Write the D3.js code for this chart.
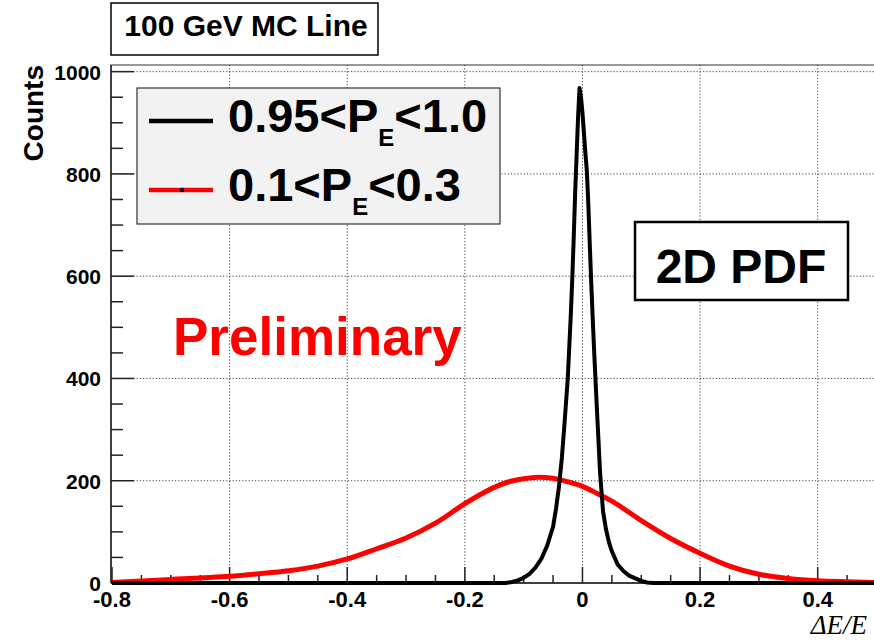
<!DOCTYPE html>
<html>
<head>
<meta charset="utf-8">
<script src="https://cdn.jsdelivr.net/npm/d3@7"></script>
<style>
  body { margin: 0; background: #fff; }
  svg text { font-family: "Liberation Sans", Arial, sans-serif; font-weight: bold; }
</style>
</head>
<body>
<div id="chart"></div>
<script>
// black histogram: 0.95 < P_E < 1.0
const blackX = [-0.8, -0.13, -0.12, -0.11, -0.10, -0.09, -0.08, -0.07, -0.06, -0.05, -0.045, -0.04, -0.035,
    -0.03, -0.025, -0.02, -0.0175, -0.015, -0.0125, -0.01, -0.0075, -0.005, -0.0025, 0, 0.0025, 0.005,
    0.0075, 0.01, 0.0125, 0.015, 0.0175, 0.02, 0.025, 0.03, 0.035, 0.04, 0.045, 0.05, 0.06, 0.07, 0.08,
    0.09, 0.10, 0.11, 0.12, 0.5];
const blackCounts = [0, 0, 2, 5, 10, 18, 30, 47, 73, 110, 145, 188, 245,
    320, 400, 520, 590, 670, 760, 835, 910, 968, 950, 920, 880, 840,
    805, 740, 660, 585, 515, 450, 330, 215, 140, 105, 80, 62, 36, 23, 14,
    9, 4, 1, 0, 0];

// red histogram: 0.1 < P_E < 0.3
const redX = [-0.8, -0.75, -0.7, -0.65, -0.6, -0.55, -0.5, -0.45, -0.4, -0.35, -0.3, -0.25, -0.2, -0.175,
    -0.15, -0.125, -0.1, -0.075, -0.05, -0.025, 0, 0.025, 0.05, 0.1, 0.15, 0.2, 0.25, 0.3, 0.35, 0.4, 0.45, 0.5];
const redCounts = [1, 4, 7, 10, 13, 18, 24, 33, 47, 67, 88, 117, 155, 172,
    187, 198, 204, 207, 205, 198, 189, 175, 160, 122, 87, 58, 33, 17, 9, 4.5, 2.5, 1];

const xMajor = [-0.8, -0.6, -0.4, -0.2, 0, 0.2, 0.4];
const yMajor = [0, 200, 400, 600, 800, 1000];

const legendLabels = [
    { pre: "0.95<P", sub: "E", post: "<1.0", color: "#000000" },
    { pre: "0.1<P", sub: "E", post: "<0.3", color: "#ff0000" }
];

const width = 874, height = 640;
const frame = { left: 111, right: 876.5, top: 65, bottom: 583 };

const svg = d3.select("#chart").append("svg")
    .attr("width", width)
    .attr("height", height);

const x = d3.scaleLinear().domain([-0.8, 0.5]).range([112, frame.right]);
const y = d3.scaleLinear().domain([0, 1013]).range([frame.bottom, frame.top]);

// grid
const grid = svg.append("g").attr("stroke", "#444").attr("stroke-width", 1).attr("stroke-dasharray", "1.2,2");
grid.selectAll("line.gx")
    .data(xMajor.filter(d => d > -0.8))
    .join("line")
    .attr("x1", d => x(d)).attr("x2", d => x(d))
    .attr("y1", frame.top).attr("y2", frame.bottom);
grid.selectAll("line.gy")
    .data(yMajor.filter(d => d > 0))
    .join("line")
    .attr("x1", frame.left).attr("x2", frame.right)
    .attr("y1", d => y(d)).attr("y2", d => y(d));

// frame
svg.append("rect")
    .attr("x", frame.left).attr("y", frame.top)
    .attr("width", frame.right - frame.left).attr("height", frame.bottom - frame.top)
    .attr("fill", "none").attr("stroke", "#333").attr("stroke-width", 1);

// ticks
const xMinor = d3.range(-0.8, 0.5001, 0.05).map(d => +d.toFixed(2));
svg.append("g").selectAll("line")
    .data(xMinor)
    .join("line")
    .attr("x1", d => x(d)).attr("x2", d => x(d))
    .attr("y1", frame.bottom)
    .attr("y2", d => frame.bottom - (xMajor.some(m => Math.abs(m - d) < 1e-6) ? 16 : 8))
    .attr("stroke", "#222").attr("stroke-width", 1.5);

const yMinor = d3.range(0, 1001, 50);
svg.append("g").selectAll("line")
    .data(yMinor)
    .join("line")
    .attr("x1", frame.left)
    .attr("x2", d => frame.left + (d % 200 === 0 ? 23 : 12))
    .attr("y1", d => y(d)).attr("y2", d => y(d))
    .attr("stroke", "#222").attr("stroke-width", 1.5);

// axis lines
svg.append("line").attr("x1", frame.left).attr("x2", frame.left)
    .attr("y1", frame.top).attr("y2", frame.bottom).attr("stroke", "#222").attr("stroke-width", 1.5);
svg.append("line").attr("x1", frame.left).attr("x2", frame.right)
    .attr("y1", frame.bottom).attr("y2", frame.bottom).attr("stroke", "#222").attr("stroke-width", 1.5);

// tick labels
svg.append("g").selectAll("text")
    .data(xMajor)
    .join("text")
    .attr("x", d => x(d))
    .attr("y", 607)
    .attr("text-anchor", "middle")
    .attr("font-size", 22)
    .text(d => d === 0 ? "0" : d.toFixed(1));

svg.append("g").selectAll("text")
    .data(yMajor)
    .join("text")
    .attr("x", 101)
    .attr("y", d => y(d) + 8)
    .attr("text-anchor", "end")
    .attr("font-size", 21)
    .text(d => d);

// axis titles
svg.append("text")
    .attr("transform", "translate(43,65) rotate(-90)")
    .attr("text-anchor", "end")
    .attr("font-size", 28)
    .text("Counts");

svg.append("text")
    .attr("x", 867).attr("y", 634)
    .attr("text-anchor", "end")
    .attr("font-size", 27)
    .style("font-family", "'Liberation Serif', 'Times New Roman', serif")
    .style("font-style", "italic")
    .style("font-weight", "normal")
    .text("ΔE/E");

// curves
const red = redX.map((d, i) => [d, redCounts[i]]);
const black = blackX.map((d, i) => [d, blackCounts[i]]);

svg.append("path")
    .datum(red)
    .attr("fill", "none")
    .attr("stroke", "#ff0000")
    .attr("stroke-width", 5)
    .attr("d", d3.line().x(d => x(d[0])).y(d => y(d[1])).curve(d3.curveMonotoneX));

svg.append("path")
    .datum(black)
    .attr("fill", "none")
    .attr("stroke", "#000")
    .attr("stroke-width", 4)
    .attr("stroke-linejoin", "round")
    .attr("d", d3.line().x(d => x(d[0])).y(d => y(d[1])));

// title box
svg.append("rect")
    .attr("x", 111).attr("y", 3).attr("width", 267).attr("height", 52)
    .attr("fill", "#fff").attr("stroke", "#000").attr("stroke-width", 1.5);
svg.append("text")
    .attr("x", 246).attr("y", 36)
    .attr("text-anchor", "middle")
    .attr("font-size", 30)
    .text("100 GeV MC Line");

// legend
const legend = svg.append("g");
legend.append("rect")
    .attr("x", 137).attr("y", 88).attr("width", 363).attr("height", 136)
    .attr("fill", "#f2f2f2").attr("stroke", "#333").attr("stroke-width", 1.2);

legendLabels.forEach((l, i) => {
    const ly = 121 + i * 69;
    legend.append("line")
        .attr("x1", 149).attr("x2", 213)
        .attr("y1", ly).attr("y2", ly)
        .attr("stroke", l.color).attr("stroke-width", 4.5);
    legend.append("circle")
        .attr("cx", 182).attr("cy", ly).attr("r", i === 0 ? 1.2 : 2.2)
        .attr("fill", "#000");
    const t = legend.append("text")
        .attr("x", 228).attr("y", ly + 11)
        .attr("font-size", 47);
    t.append("tspan").text(l.pre);
    t.append("tspan").attr("font-size", 24).attr("dy", 14).text(l.sub);
    t.append("tspan").attr("dy", -14).text(l.post);
});

// annotations
svg.append("text")
    .attr("x", 173).attr("y", 355)
    .attr("font-size", 53)
    .attr("fill", "#ff0000")
    .text("Preliminary");

svg.append("rect")
    .attr("x", 635).attr("y", 222).attr("width", 213).attr("height", 78)
    .attr("fill", "#fff").attr("stroke", "#000").attr("stroke-width", 2.5);
svg.append("text")
    .attr("x", 741).attr("y", 283)
    .attr("text-anchor", "middle")
    .attr("font-size", 48)
    .text("2D PDF");
</script>
</body>
</html>
